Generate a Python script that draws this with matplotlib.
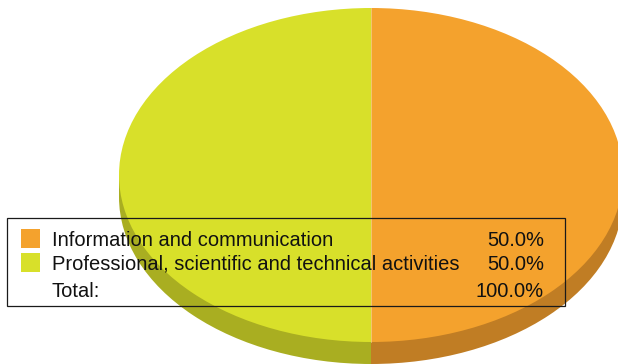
import numpy as np
import matplotlib.pyplot as plt
from matplotlib.patches import Rectangle

plt.rcParams['font.family'] = ['Liberation Sans', 'DejaVu Sans']

labels = ['Information and communication', 'Professional, scientific and technical activities']
shares = [50.0, 50.0]
top_colors = ['#f4a22d', '#d8e02a']
side_colors = ['#c07d24', '#a9ae21']

W, H = 618, 364
cx, cy = 371, 175      # pie centre in pixels
rx, ry = 252, 167      # ellipse radii in pixels
depth = 22

fig = plt.figure(figsize=(W / 100, H / 100), dpi=100)

# pie axes: one data unit = rx px horizontally, ry px vertically
ax = fig.add_axes([0, 0, 1, 1])
d = depth / ry

# side (depth) of the slab
ax.pie(shares, colors=side_colors, startangle=90, counterclock=False,
       center=(0, -d), radius=1, wedgeprops=dict(linewidth=0))
ax.add_patch(Rectangle((-1, -d), 1, d, color=side_colors[1], lw=0))
ax.add_patch(Rectangle((0, -d), 1, d, color=side_colors[0], lw=0))
# top face
ax.pie(shares, colors=top_colors, startangle=90, counterclock=False,
       center=(0, 0), radius=1, wedgeprops=dict(linewidth=0))
ax.plot([0, 0], [-1, 1], color='#f0e0a0', lw=0.6, alpha=0.7)

ax.set_aspect('auto')
ax.set_xlim(-cx / rx, (W - cx) / rx)
ax.set_ylim(-(H - cy) / ry, cy / ry)
ax.axis('off')

# legend overlay in pixel coordinates
lg = fig.add_axes([0, 0, 1, 1])
lg.set_xlim(0, W)
lg.set_ylim(H, 0)
lg.axis('off')
lg.patch.set_alpha(0)

lg.add_patch(Rectangle((7, 218), 558, 87.5, fill=False, edgecolor='#1a1a1a', lw=0.9))
fs = 14.5
rows = [246, 269.5, 297]
for i in range(len(labels)):
    lg.add_patch(Rectangle((21, rows[i] - 17), 19, 19, color=top_colors[i], lw=0))
    lg.text(52, rows[i], labels[i], fontsize=fs, va='baseline', ha='left', color='#111111')
    lg.text(544, rows[i], f'{shares[i]:.1f}%', fontsize=fs, va='baseline', ha='right', color='#111111')
lg.text(52, rows[2], 'Total:', fontsize=fs, va='baseline', ha='left', color='#111111')
lg.text(544, rows[2], f'{sum(shares):.1f}%', fontsize=fs, va='baseline', ha='right', color='#111111')

fig.savefig('out.png', dpi=100)
